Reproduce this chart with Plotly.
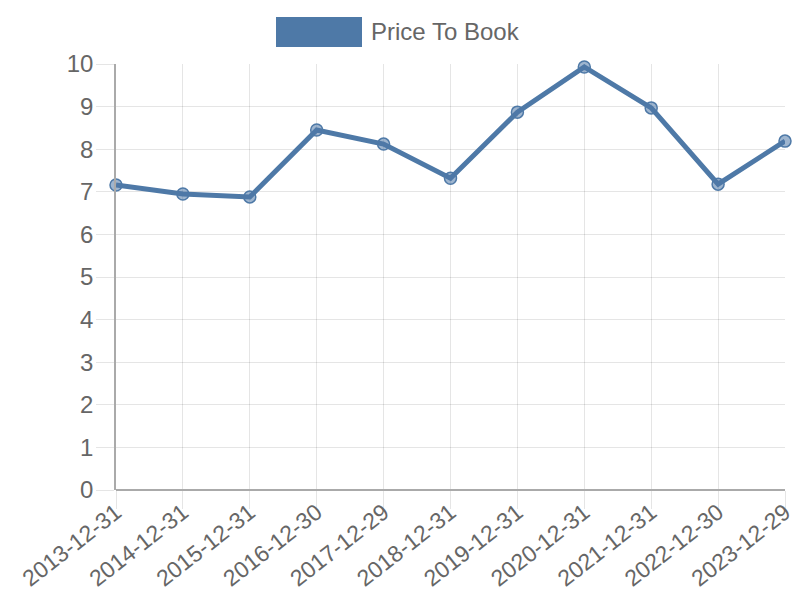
import plotly.graph_objects as go

# price to book, year-end values
dates = ["2013-12-31", "2014-12-31", "2015-12-31", "2016-12-30", "2017-12-29",
         "2018-12-31", "2019-12-31", "2020-12-31", "2021-12-31", "2022-12-30",
         "2023-12-29"]
price_to_book = [7.16, 6.95, 6.88, 8.45, 8.12, 7.32, 8.87, 9.93, 8.97, 7.18, 8.19]
series_name = "Price To Book"

line_col = "rgb(78,121,167)"

# page body adds 8px on the left/top, so the figure is drawn a bit smaller
off = 8
left, top, right, bottom = 116, 64, 785, 490
pw, ph = right - left, bottom - top

fig = go.Figure()
fig.add_trace(go.Scatter(
    x=dates, y=price_to_book, name=series_name, mode="lines+markers",
    line=dict(color=line_col, width=5),
    marker=dict(size=12, color="rgba(78,121,167,0.55)",
                line=dict(color=line_col, width=1.5)),
    cliponaxis=False,
))

# chart.js style legend box
fig.add_shape(type="rect", xref="paper", yref="paper",
              x0=(276 - left) / pw, x1=(362 - left) / pw,
              y0=(bottom - 47) / ph, y1=(bottom - 17) / ph,
              fillcolor=line_col, line=dict(width=0))
fig.add_annotation(text=series_name, xref="paper", yref="paper",
                   x=(369 - left) / pw, y=(bottom - 31) / ph,
                   xanchor="left", yanchor="middle", showarrow=False,
                   font=dict(size=24, color="#666"))

fig.update_layout(
    width=800 - off, height=600 - off,
    margin=dict(l=left - off, r=800 - right, t=top - off, b=600 - bottom),
    paper_bgcolor="white", plot_bgcolor="white",
    showlegend=False,
    font=dict(family="Liberation Sans, Arial, sans-serif", color="#666"),
)
fig.update_xaxes(
    type="category", range=[0, len(dates) - 1], automargin=False,
    showgrid=True, gridcolor="rgba(0,0,0,0.1)", gridwidth=1,
    ticks="outside", ticklen=18, tickcolor="rgba(0,0,0,0.1)",
    tickangle=-38, tickfont=dict(size=23, color="#666"),
    ticklabelstandoff=-19,
    showline=False, zeroline=False,
)
fig.update_yaxes(
    range=[0, 10], dtick=1, automargin=False,
    showgrid=True, gridcolor="rgba(0,0,0,0.1)", gridwidth=1,
    ticks="outside", ticklen=18, tickcolor="rgba(0,0,0,0.1)",
    tickfont=dict(size=24, color="#666"),
    ticklabelstandoff=-2,
    showline=True, linecolor="#aaa", linewidth=1.5,
    zeroline=True, zerolinecolor="#aaa", zerolinewidth=1.5,
)

fig.write_html("out.html")
